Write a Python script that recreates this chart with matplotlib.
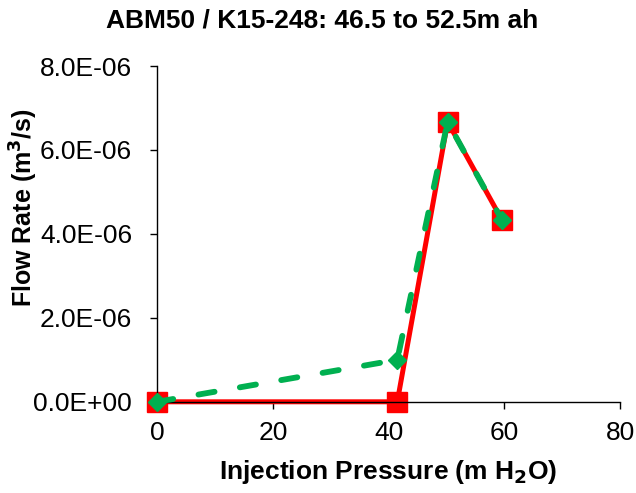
import matplotlib
matplotlib.use("Agg")
import matplotlib.pyplot as plt
from matplotlib.ticker import FuncFormatter

plt.rcParams['font.family'] = ['Liberation Sans', 'DejaVu Sans']

# Injection test data
pressure_a = [0, 41.5, 50.2, 59.6]
flow_a = [0.0, 0.0, 6.67e-6, 4.33e-6]
pressure_b = [0, 41.5, 50.2, 59.6]
flow_b = [0.0, 1.0e-6, 6.67e-6, 4.33e-6]

x_ticks = [0, 20, 40, 60, 80]
y_ticks = [0, 2e-6, 4e-6, 6e-6, 8e-6]

fig = plt.figure(figsize=(6.36, 4.93), dpi=100)
ax = fig.add_axes([0.247, 0.185, 0.728, 0.681])

ax.plot(pressure_a, flow_a, color='#ff0000', lw=3.6, marker='s', ms=14.5,
        mec='#ff0000', mfc='#ff0000', zorder=2, clip_on=False)
ax.plot(pressure_b, flow_b, color='#00b050', lw=4.2, ls=(0, (2.8, 4.4)),
        dash_capstyle='round', marker='D', ms=9.5, mec='#00b050',
        mfc='#00b050', zorder=3, clip_on=False)

ax.set_xlim(0, 80)
ax.set_ylim(0, 8e-6)
ax.set_xticks(x_ticks)
ax.set_yticks(y_ticks)
ax.yaxis.set_major_formatter(FuncFormatter(lambda v, p: f"{v:.1E}"))

for side in ('top', 'right'):
    ax.spines[side].set_visible(False)
for side in ('left', 'bottom'):
    ax.spines[side].set_linewidth(1.0)

ax.tick_params(axis='both', direction='out', length=5, width=1, labelsize=19)
ax.tick_params(axis='y', pad=13)
ax.tick_params(axis='x', pad=9)

fig.text(0.507, 1 - 28 / 493, "ABM50 / K15-248: 46.5 to 52.5m ah",
         fontsize=19, fontweight='bold', ha='center', va='baseline')
ax.set_xlabel("Injection Pressure (m H$_\\mathbf{2}$O)", fontsize=19,
              fontweight='bold', labelpad=9)
fig.text(24 / 636, 1 - 208 / 493, "Flow Rate (m$^\\mathbf{3}$/s)", fontsize=18,
         fontweight='bold', rotation=90, ha='center', va='center')

fig.savefig("out.png", dpi=100)
